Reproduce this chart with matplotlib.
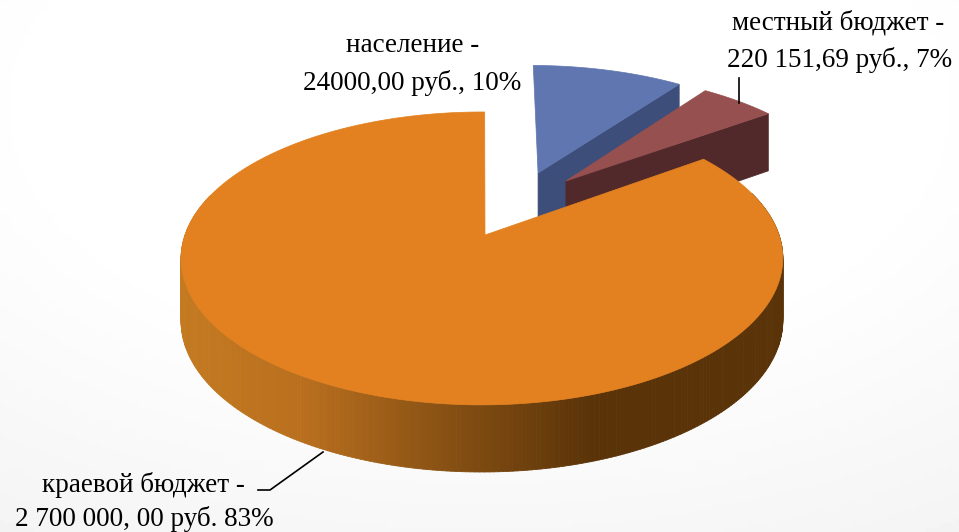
import numpy as np
import matplotlib
matplotlib.use('Agg')
import matplotlib.pyplot as plt
from matplotlib.collections import PolyCollection
from matplotlib.colors import LinearSegmentedColormap

# shares (the slices are not drawn to the printed percents)
names = ['население', 'местный бюджет', 'краевой бюджет']
shares = [10.0, 5.0, 85.0]
top_colors = ['#5f76b0', '#96504f', '#e38120']
wall_colors = ['#3e4e7a', '#52292b', None]

# offset of each slice on the unit disc
offsets = [(0.192, 0.467), (0.29, 0.403), (-0.01, 0.0)]

# projection of the tilted disc to pixels
cx, cy = 485, 235
A, B, k = 297, 142.7, 0.16
D = 61.5


def project(x, y):
    w = 1 + k * y
    return cx + A * x / w, cy - B * y / w


def depth(y):
    return D / np.sqrt(1 + k * y)


def arc(t0, t1, off, n=200):
    t = np.radians(np.linspace(t0, t1, n))
    return np.cos(t) + off[0], np.sin(t) + off[1]


plt.rcParams['font.family'] = ['Liberation Serif', 'DejaVu Serif']
fig = plt.figure(figsize=(9.59, 5.32), dpi=100)
ax = fig.add_axes([0, 0, 1, 1])
ax.set_xlim(0, 959)
ax.set_ylim(532, 0)
ax.axis('off')

# pale background, grey towards the lower corners
yy, xx = np.mgrid[0:1:120j, 0:1:200j]
bg = np.clip(np.hypot((xx - 0.5) * 1.0, yy - 0.2) - 0.45, 0, 1) * 0.09
ax.imshow(1 - bg, extent=(0, 959, 532, 0), cmap='gray', vmin=0, vmax=1,
          aspect='auto', zorder=0)

angles = 89.5 - np.cumsum([0] + shares) * 3.6

# blue and red: flat wall under the front edge, then the top
for i in [0, 1]:
    t0, t1 = angles[i], angles[i + 1]
    off = offsets[i]
    ax_x, ax_y = off
    ex, ey = arc(t1, t1, off, 1)
    px0, py0 = project(ax_x, ax_y)
    px1, py1 = project(ex[0], ey[0])
    wall = [(px0, py0), (px1, py1), (px1, py1 + depth(ey[0])), (px0, py0 + depth(ax_y))]
    ax.fill(*zip(*wall), color=wall_colors[i], lw=0.5, zorder=2 + i)
    ux, uy = arc(t0, t1, off)
    tx, ty = project(ux, uy)
    ax.fill(np.r_[px0, tx], np.r_[py0, ty], color=top_colors[i], lw=0.5, zorder=2 + i)

# orange wall as thin stripes with a horizontal gradient, front part only
side_cmap = LinearSegmentedColormap.from_list(
    'side', [(0.0, '#c47a20'), (0.2, '#b96f1e'), (0.4, '#8f5515'),
             (0.68, '#5a3308'), (1.0, '#5a3308')])
ux, uy = arc(angles[3], angles[2], offsets[2], 400)
tx, ty = project(ux, uy)
low = ty + depth(uy)
front = np.where(uy[:-1] < 0.3)[0]
quads = [[(tx[j], ty[j]), (tx[j + 1], ty[j + 1]), (tx[j + 1], low[j + 1]), (tx[j], low[j])]
         for j in front]
vals = (tx[front] - tx.min()) / (tx.max() - tx.min())
pc = PolyCollection(quads, array=vals, cmap=side_cmap, clim=(0, 1), edgecolors='face',
                    linewidths=0.6, zorder=4)
ax.add_collection(pc)

# orange top
ox, oy = project(0, 0)
ax.fill(np.r_[ox, tx], np.r_[oy, ty], color=top_colors[2], lw=0.5, zorder=5)

# leader lines
ax.plot([739, 739], [78, 103], color='black', lw=1.2, zorder=6)
ax.plot([258, 270, 323], [490, 490, 452], color='black', lw=1.2, zorder=6)

fs = 19.5
ax.text(413, 45.5, 'население -', ha='center', va='center', fontsize=fs, zorder=7)
ax.text(412.5, 82.5, '24000,00 руб., 10%', ha='center', va='center', fontsize=fs, zorder=7)
ax.text(838, 23, 'местный бюджет -', ha='center', va='center', fontsize=fs, zorder=7)
ax.text(839.5, 60, '220 151,69 руб., 7%', ha='center', va='center', fontsize=fs, zorder=7)
ax.text(143, 485, 'краевой бюджет -', ha='center', va='center', fontsize=fs, zorder=7)
ax.text(144.5, 519, '2 700 000, 00 руб. 83%', ha='center', va='center', fontsize=fs, zorder=7)

fig.savefig('out.png', dpi=100)
